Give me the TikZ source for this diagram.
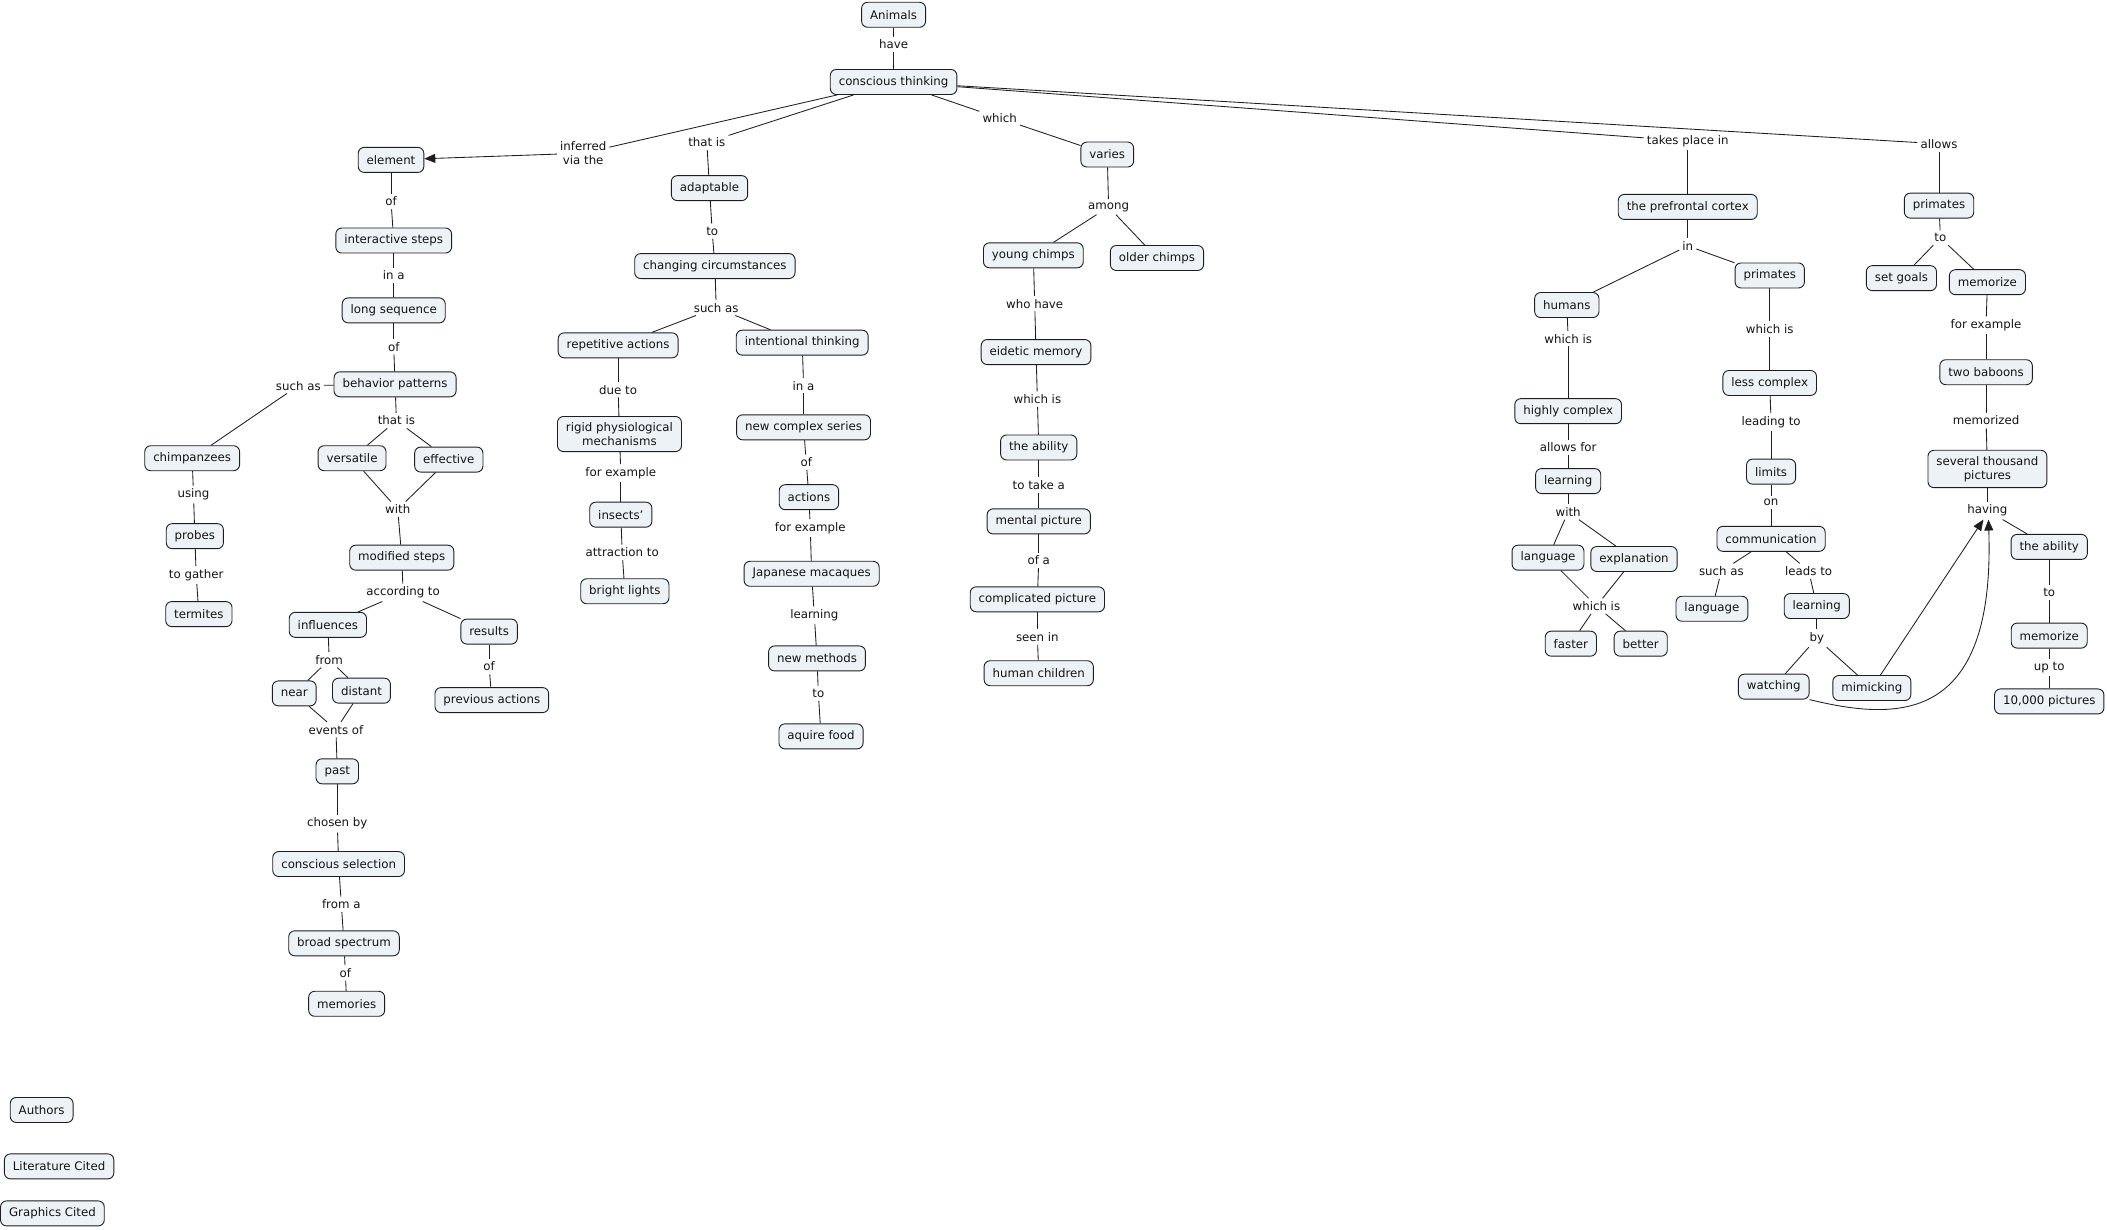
\documentclass[tikz,border=0pt]{standalone}
\usepackage{fontspec}
\setmainfont{DejaVu Sans}
\usetikzlibrary{arrows.meta}
\definecolor{cfill}{RGB}{236,242,245}
\definecolor{cline}{RGB}{30,30,30}
\begin{document}
\begin{tikzpicture}[x=1.3438pt,y=-1.3438pt,
  cnode/.style={draw=cline, fill=cfill, rounded corners=6pt, line width=0.9pt,
    inner xsep=8.5pt, inner ysep=6pt, minimum height=25pt,
    font=\fontsize{11.8}{14}\selectfont, align=center, text=black!92},
  lnk/.style={inner sep=3pt, font=\fontsize{11.8}{14}\selectfont, align=center, text=black!92},
  conn/.style={draw=cline, line width=0.85pt},
  arr/.style={conn, -{Triangle[length=11pt,width=9pt]}}]
\useasboundingbox[fill=white] (0,0) rectangle (1568,915);
\begin{scope}[shift={(0,1)}]
% top
\node[cnode] (anim) at (665,10) {Animals};
\node[lnk] (l_have) at (665,32) {have};
\node[cnode] (ct) at (665,60) {conscious thinking};

% left branch
\node[lnk] (l_inf) at (434,113) {inferred\\via the};
\node[cnode] (elem) at (291,118) {element};
\node[lnk] (l_of1) at (291,149) {of};
\node[cnode] (inter) at (293,178) {interactive steps};
\node[lnk] (l_ina1) at (293,204) {in a};
\node[cnode] (longseq) at (293,230) {long sequence};
\node[lnk] (l_of2) at (293,257) {of};
\node[cnode] (behav) at (294,285) {behavior patterns};
\node[lnk] (l_such1) at (222,286) {such as};
\node[cnode] (chimp) at (143,340) {chimpanzees};
\node[lnk] (l_using) at (144,367) {using};
\node[cnode] (probes) at (145,398) {probes};
\node[lnk] (l_gather) at (146,427) {to gather};
\node[cnode] (termites) at (148,456) {termites};
\node[lnk] (l_thatis1) at (295,312) {that is};
\node[cnode] (versatile) at (262,340) {versatile};
\node[cnode] (effective) at (334,341) {effective};
\node[lnk] (l_with1) at (296,378) {with};
\node[cnode] (modsteps) at (299,414) {modified steps};
\node[lnk] (l_accord) at (300,440) {according to};
\node[cnode] (influences) at (244,464) {influences};
\node[cnode] (results) at (364,469) {results};
\node[lnk] (l_of3) at (364,495) {of};
\node[cnode] (prevact) at (366,520) {previous actions};
\node[lnk] (l_from) at (245,490) {from};
\node[cnode] (near) at (219,515) {near};
\node[cnode] (distant) at (269,513) {distant};
\node[lnk] (l_events) at (250,542) {events of};
\node[cnode] (past) at (251,573) {past};
\node[lnk] (l_chosen) at (251,612) {chosen by};
\node[cnode] (conssel) at (252,642) {conscious selection};
\node[lnk] (l_froma) at (254,672) {from a};
\node[cnode] (broad) at (256,701) {broad spectrum};
\node[lnk] (l_of4) at (257,723) {of};
\node[cnode] (memories) at (258,746) {memories};

% mid-left branch
\node[lnk] (l_thatis2) at (526,105) {that is};
\node[cnode] (adaptable) at (528,139) {adaptable};
\node[lnk] (l_to1) at (530,171) {to};
\node[cnode] (changing) at (532,197) {changing circumstances};
\node[lnk] (l_such2) at (533,228) {such as};
\node[cnode] (repet) at (460,256) {repetitive actions};
\node[cnode] (intent) at (597,254) {intentional thinking};
\node[lnk] (l_dueto) at (460,289) {due to};
\node[cnode] (rigid) at (461,322) {rigid physiological\\mechanisms};
\node[lnk] (l_forex1) at (462,351) {for example};
\node[cnode] (insects) at (462,382) {insects'};
\node[lnk] (l_attr) at (463,410) {attraction to};
\node[cnode] (bright) at (465,439) {bright lights};
\node[lnk] (l_ina2) at (598,286) {in a};
\node[cnode] (newcomplex) at (598,317) {new complex series};
\node[lnk] (l_of5) at (600,343) {of};
\node[cnode] (actions) at (602,369) {actions};
\node[lnk] (l_forex2) at (603,392) {for example};
\node[cnode] (japanese) at (604,426) {Japanese macaques};
\node[lnk] (l_learning) at (606,457) {learning};
\node[cnode] (newmethods) at (608,489) {new methods};
\node[lnk] (l_to2) at (609,515) {to};
\node[cnode] (aquire) at (611,547) {aquire food};

% center branch
\node[lnk] (l_which) at (744,87) {which};
\node[cnode] (varies) at (824,114) {varies};
\node[lnk] (l_among) at (825,153) {among};
\node[cnode] (young) at (769,189) {young chimps};
\node[cnode] (older) at (861,191) {older chimps};
\node[lnk] (l_whohave) at (770,225) {who have};
\node[cnode] (eidetic) at (771,261) {eidetic memory};
\node[lnk] (l_whichis1) at (772,296) {which is};
\node[cnode] (ability1) at (773,332) {the ability};
\node[lnk] (l_totake) at (773,360) {to take a};
\node[cnode] (mental) at (773,387) {mental picture};
\node[lnk] (l_ofa) at (773,416) {of a};
\node[cnode] (complicated) at (772,445) {complicated picture};
\node[lnk] (l_seenin) at (772,473) {seen in};
\node[cnode] (humanch) at (773,500) {human children};

% right branch 1
\node[lnk] (l_takes) at (1256,104) {takes place in};
\node[cnode] (prefrontal) at (1256,153) {the prefrontal cortex};
\node[lnk] (l_in) at (1256,182) {in};
\node[cnode] (humans) at (1166,226) {humans};
\node[cnode] (primates1) at (1317,204) {primates};
\node[lnk] (l_whichis2) at (1167,251) {which is};
\node[cnode] (highly) at (1167,305) {highly complex};
\node[lnk] (l_allowsfor) at (1167,332) {allows for};
\node[cnode] (learning1) at (1167,357) {learning};
\node[lnk] (l_with2) at (1167,380) {with};
\node[cnode] (language1) at (1152,414) {language};
\node[cnode] (explanation) at (1216,415) {explanation};
\node[lnk] (l_whichis3) at (1188,450) {which is};
\node[cnode] (faster) at (1169,478) {faster};
\node[cnode] (better) at (1221,478) {better};
\node[lnk] (l_whichis4) at (1317,244) {which is};
\node[cnode] (lesscomplex) at (1317,284) {less complex};
\node[lnk] (l_leading) at (1318,313) {leading to};
\node[cnode] (limits) at (1318,350) {limits};
\node[lnk] (l_on) at (1318,373) {on};
\node[cnode] (communication) at (1318,400) {communication};
\node[lnk] (l_such3) at (1281,424) {such as};
\node[lnk] (l_leads) at (1346,424) {leads to};
\node[cnode] (language2) at (1274,452) {language};
\node[cnode] (learning2) at (1352,450) {learning};
\node[lnk] (l_by) at (1352,474) {by};
\node[cnode] (watching) at (1320,510) {watching};
\node[cnode] (mimicking) at (1393,511) {mimicking};

% right branch 2
\node[lnk] (l_allows) at (1443,106) {allows};
\node[cnode] (primates2) at (1443,152) {primates};
\node[lnk] (l_to3) at (1444,176) {to};
\node[cnode] (setgoals) at (1415,206) {set goals};
\node[cnode] (memorize1) at (1479,209) {memorize};
\node[lnk] (l_forex3) at (1478,241) {for example};
\node[cnode] (baboons) at (1478,276) {two baboons};
\node[lnk] (l_memorized) at (1478,312) {memorized};
\node[cnode] (several) at (1479,348) {several thousand\\pictures};
\node[lnk] (l_having) at (1479,379) {having};
\node[cnode] (ability2) at (1525,406) {the ability};
\node[lnk] (l_to4) at (1525,440) {to};
\node[cnode] (memorize2) at (1525,472) {memorize};
\node[lnk] (l_upto) at (1525,496) {up to};
\node[cnode] (tenk) at (1525,521) {10,000 pictures};

% bottom-left
\node[cnode] (authors) at (31,825) {Authors};
\node[cnode] (litcited) at (44,867) {Literature Cited};
\node[cnode] (graphcited) at (39,902) {Graphics Cited};

% connectors
\foreach \a/\b in {anim/l_have, l_have/ct,
  ct/l_inf,
  elem/l_of1, l_of1/inter, inter/l_ina1, l_ina1/longseq, longseq/l_of2, l_of2/behav,
  behav/l_such1, l_such1/chimp, chimp/l_using, l_using/probes, probes/l_gather, l_gather/termites,
  behav/l_thatis1, l_thatis1/versatile, l_thatis1/effective,
  versatile/l_with1, effective/l_with1, l_with1/modsteps,
  modsteps/l_accord, l_accord/influences, l_accord/results,
  results/l_of3, l_of3/prevact,
  influences/l_from, l_from/near, l_from/distant,
  near/l_events, distant/l_events, l_events/past, past/l_chosen, l_chosen/conssel,
  conssel/l_froma, l_froma/broad, broad/l_of4, l_of4/memories,
  ct/l_thatis2, l_thatis2/adaptable, adaptable/l_to1, l_to1/changing, changing/l_such2,
  l_such2/repet, l_such2/intent,
  repet/l_dueto, l_dueto/rigid, rigid/l_forex1, l_forex1/insects, insects/l_attr, l_attr/bright,
  intent/l_ina2, l_ina2/newcomplex, newcomplex/l_of5, l_of5/actions, actions/l_forex2,
  l_forex2/japanese, japanese/l_learning, l_learning/newmethods, newmethods/l_to2, l_to2/aquire,
  ct/l_which, l_which/varies, varies/l_among, l_among/young, l_among/older,
  young/l_whohave, l_whohave/eidetic, eidetic/l_whichis1, l_whichis1/ability1,
  ability1/l_totake, l_totake/mental, mental/l_ofa, l_ofa/complicated,
  complicated/l_seenin, l_seenin/humanch,
  ct/l_takes, l_takes/prefrontal, prefrontal/l_in, l_in/humans, l_in/primates1,
  humans/l_whichis2, l_whichis2/highly, highly/l_allowsfor, l_allowsfor/learning1,
  learning1/l_with2, l_with2/language1, l_with2/explanation,
  language1/l_whichis3, explanation/l_whichis3, l_whichis3/faster, l_whichis3/better,
  primates1/l_whichis4, l_whichis4/lesscomplex, lesscomplex/l_leading, l_leading/limits,
  limits/l_on, l_on/communication, communication/l_such3, l_such3/language2,
  communication/l_leads, l_leads/learning2, learning2/l_by, l_by/watching, l_by/mimicking,
  ct/l_allows, l_allows/primates2, primates2/l_to3, l_to3/setgoals, l_to3/memorize1,
  memorize1/l_forex3, l_forex3/baboons, baboons/l_memorized, l_memorized/several,
  several/l_having, l_having/ability2, ability2/l_to4, l_to4/memorize2,
  memorize2/l_upto, l_upto/tenk}
  \draw[conn] (\a) -- (\b);

% arrows
\draw[arr] (l_inf) -- (elem);
\draw[arr] (mimicking) -- ([xshift=-4pt]l_having.south);
\draw[arr] (watching.south east) .. controls (1410,535) and (1485,540) .. ([xshift=1pt]l_having.south);
\end{scope}
\end{tikzpicture}
\end{document}
